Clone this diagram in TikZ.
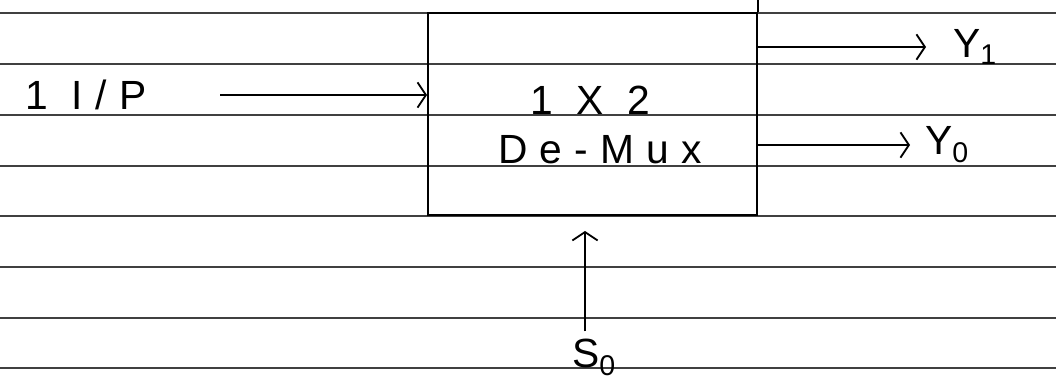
\documentclass[tikz,border=0pt]{standalone}
\usepackage{fontspec}
\setmainfont{Liberation Sans}
\usetikzlibrary{arrows.meta,positioning}

\tikzset{
  ruled/.style={line width=1pt, black!75},
  wire/.style={line width=1.3pt, -{Straight Barb[length=6pt,width=18pt]}},
  hand/.style={font=\fontsize{29}{34}\selectfont\addfontfeature{LetterSpace=30}, inner sep=2pt},
}

\begin{document}
\begin{tikzpicture}[x=0.025cm,y=-0.025cm]
  \useasboundingbox (0,0) rectangle (1056,383);
  % ruled paper
  \foreach \y in {13,64,115,166,216,267,318,368}
    \draw[ruled] (0,\y) -- (1056,\y);
  % demux block
  \node[draw, line width=1.3pt, minimum width=8.225cm, minimum height=5.05cm, inner sep=0pt] (demux) at (592.5,114) {};
  \draw[line width=1.3pt] (demux.north east) -- ++(0,-13);
  \node[hand] (size) at (590,100) {1 X 2};
  \node[hand] (name) at (600,150) {De-Mux};
  % input side
  \node[hand] (inp) at (86,95) {1 I/P};
  \coordinate (inpstart) at (220,95);
  \draw[wire] (inpstart) -- (inpstart -| demux.west);
  % outputs
  \node[hand, anchor=west] (y1) at (950,47) {Y\textsubscript{1}};
  \node[hand, anchor=west] (y0) at (922,145) {Y\textsubscript{0}};
  \draw[wire, shorten >=0.6cm] (y1 -| demux.east) -- (y1.west);
  \draw[wire, shorten >=0.3cm] (y0 -| demux.east) -- (y0.west);
  % select line
  \coordinate (selx) at (585,0);
  \node[hand] (s0) at (594,357) {S\textsubscript{0}};
  \draw[wire, shorten <=3pt, shorten >=0.375cm] (s0.north -| selx) -- (selx |- demux.south);
\end{tikzpicture}
\end{document}
